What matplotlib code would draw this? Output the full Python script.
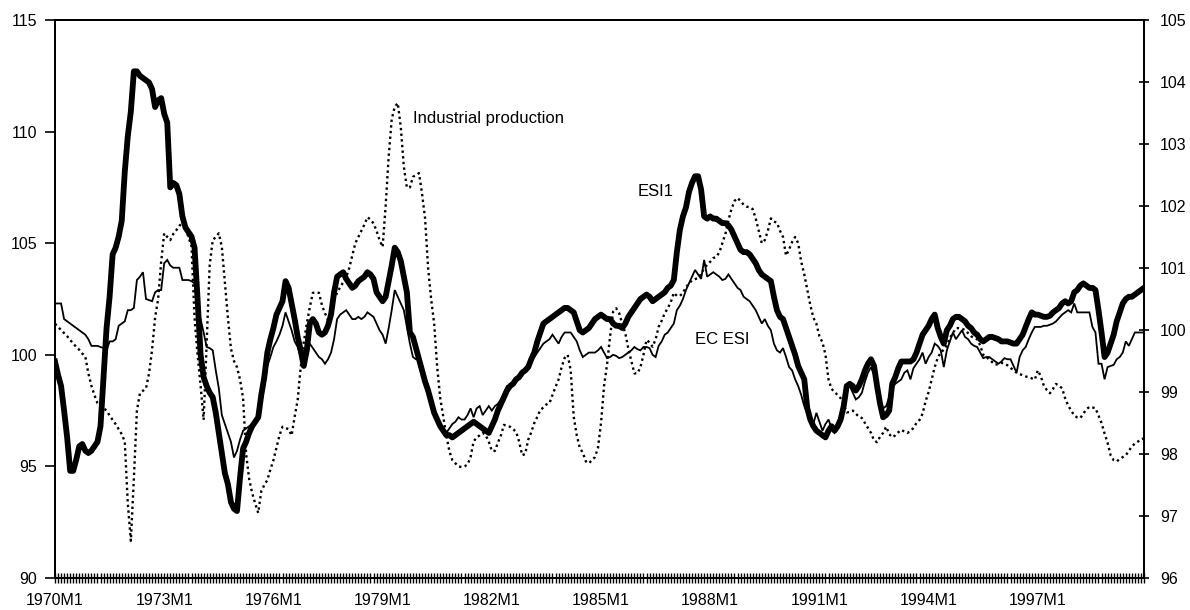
import matplotlib
matplotlib.use("Agg")
import matplotlib.pyplot as plt
import numpy as np

plt.rcParams['font.family'] = ['Liberation Sans', 'DejaVu Sans']

# Monthly observations, 1970M1 .. 1999M12 (one row per year)
esi1 = [
    99.7, 99.1, 98.6, 97.5, 96.3, 94.8, 94.8, 95.3, 95.9, 96.0, 95.7, 95.6,
    95.7, 95.9, 96.1, 96.8, 99.0, 101.2, 102.6, 104.5, 104.8, 105.3, 106.0, 108.2,
    109.8, 110.9, 112.7, 112.7, 112.5, 112.4, 112.3, 112.2, 111.9, 111.1, 111.4, 111.5,
    110.8, 110.4, 107.5, 107.7, 107.6, 107.2, 106.2, 105.7, 105.5, 105.3, 104.8, 102.5,
    100.0, 99.0, 98.6, 98.3, 98.1, 97.4, 96.5, 95.6, 94.7, 94.2, 93.4, 93.1,
    93.0, 94.5, 95.8, 96.1, 96.5, 96.8, 97.0, 97.2, 98.2, 99.0, 100.1, 100.7,
    101.2, 101.8, 102.1, 102.4, 103.3, 103.0, 102.3, 101.6, 100.8, 100.2, 99.5, 100.2,
    101.4, 101.6, 101.4, 101.0, 100.9, 101.0, 101.3, 101.8, 102.8, 103.5, 103.6, 103.7,
    103.4, 103.2, 103.0, 103.1, 103.3, 103.4, 103.5, 103.7, 103.6, 103.4, 102.8, 102.6,
    102.4, 102.6, 103.3, 104.0, 104.8, 104.6, 104.2, 103.5, 102.8, 101.0, 100.8, 100.3,
    99.8, 99.3, 98.8, 98.4, 97.9, 97.4, 97.1, 96.8, 96.6, 96.4, 96.4, 96.3,
    96.4, 96.5, 96.6, 96.7, 96.8, 96.9, 97.0, 96.9, 96.8, 96.7, 96.6, 96.5,
    96.8, 97.1, 97.5, 97.8, 98.1, 98.4, 98.6, 98.7, 98.9, 99.0, 99.2, 99.3,
    99.45, 99.8, 100.1, 100.6, 101.0, 101.4, 101.5, 101.6, 101.7, 101.8, 101.9, 102.0,
    102.1, 102.1, 102.0, 101.9, 101.5, 101.1, 101.0, 101.1, 101.2, 101.4, 101.6, 101.7,
    101.8, 101.7, 101.6, 101.6, 101.4, 101.3, 101.3, 101.2, 101.4, 101.7, 101.9, 102.1,
    102.3, 102.5, 102.6, 102.7, 102.6, 102.4, 102.5, 102.6, 102.7, 102.8, 103.0, 103.1,
    103.35, 104.6, 105.6, 106.2, 106.6, 107.3, 107.7, 108.0, 108.0, 107.4, 106.2, 106.1,
    106.2, 106.1, 106.1, 106.0, 105.9, 105.9, 105.8, 105.6, 105.3, 105.0, 104.7, 104.6,
    104.6, 104.5, 104.3, 104.1, 103.8, 103.6, 103.5, 103.4, 103.3, 102.6, 102.0, 101.7,
    101.6, 101.2, 100.8, 100.4, 100.0, 99.5, 99.2, 98.9, 97.6, 97.1, 96.8, 96.6,
    96.5, 96.4, 96.3, 96.6, 96.8, 96.6, 96.8, 97.1, 97.7, 98.6, 98.7, 98.6,
    98.4, 98.6, 98.9, 99.3, 99.6, 99.8, 99.5, 98.6, 97.8, 97.2, 97.3, 97.5,
    98.7, 99.0, 99.4, 99.7, 99.7, 99.7, 99.7, 99.8, 100.1, 100.5, 100.9, 101.1,
    101.3, 101.6, 101.8, 101.2, 100.8, 100.5, 101.1, 101.3, 101.6, 101.7, 101.7, 101.6,
    101.5, 101.3, 101.2, 101.0, 100.9, 100.7, 100.6, 100.7, 100.8, 100.8, 100.75, 100.7,
    100.6, 100.6, 100.6, 100.55, 100.5, 100.5, 100.7, 100.9, 101.25, 101.6, 101.9, 101.8,
    101.8, 101.75, 101.7, 101.7, 101.75, 101.9, 102.0, 102.1, 102.3, 102.4, 102.3, 102.4,
    102.8, 102.9, 103.1, 103.2, 103.1, 103.0, 103.0, 102.9, 102.0, 101.0, 99.9, 100.1,
    100.5, 100.9, 101.5, 101.9, 102.3, 102.5, 102.6, 102.6, 102.7, 102.8, 102.9, 103.0,
]

ec_esi = [
    102.3, 102.3, 102.3, 101.6, 101.5, 101.4, 101.3, 101.2, 101.1, 101.0, 100.9, 100.7,
    100.4, 100.4, 100.4, 100.35, 100.3, 100.2, 100.6, 100.6, 100.7, 101.3, 101.4, 101.5,
    102.0, 102.0, 102.1, 103.35, 103.5, 103.7, 102.5, 102.45, 102.4, 102.8, 102.9, 102.9,
    104.1, 104.25, 104.0, 103.9, 103.9, 103.9, 103.35, 103.35, 103.35, 103.3, 103.2, 102.0,
    101.6, 101.0, 100.35, 100.3, 100.2, 99.3, 98.5, 97.3, 96.9, 96.5, 96.1, 95.4,
    95.7, 96.2, 96.6, 96.7, 96.8, 96.9, 97.0, 97.1, 97.8, 98.6, 99.5, 99.9,
    100.35, 100.6, 100.9, 101.3, 101.9, 101.5, 101.1, 100.6, 100.35, 99.9, 99.45, 99.9,
    100.5, 100.3, 100.1, 99.9, 99.8, 99.6, 99.8, 100.1, 100.7, 101.6, 101.8, 101.9,
    102.0, 101.8, 101.6, 101.6, 101.7, 101.6, 101.7, 101.9, 101.8, 101.7, 101.4, 101.1,
    100.9, 100.5, 101.2, 102.0, 102.9, 102.6, 102.3, 102.0, 101.25, 100.5, 99.9, 99.8,
    99.8, 99.3, 99.0, 98.6, 98.0, 97.4, 97.2, 96.9, 96.7, 96.5, 96.7, 96.9,
    97.0, 97.2, 97.1, 97.1, 97.3, 97.6, 97.2, 97.6, 97.7, 97.3, 97.5, 97.7,
    97.5, 97.7, 97.8, 98.0, 98.3, 98.6, 98.6, 98.7, 98.9, 99.0, 99.2, 99.4,
    99.6, 99.8, 99.9, 100.1, 100.3, 100.5, 100.6, 100.7, 100.9, 100.7, 100.5, 100.8,
    101.0, 101.0, 101.0, 100.8, 100.6, 100.2, 99.9, 100.0, 100.1, 100.1, 100.1, 100.2,
    100.35, 100.1, 99.85, 99.9, 100.0, 99.95, 99.85, 99.9, 100.0, 100.1, 100.2, 100.35,
    100.25, 100.2, 100.35, 100.35, 100.3, 100.0, 99.9, 100.4, 100.6, 100.9, 101.0, 101.2,
    101.4, 102.0, 102.2, 102.5, 102.9, 103.2, 103.5, 103.8, 103.6, 103.4, 104.25, 103.5,
    103.6, 103.7, 103.6, 103.5, 103.35, 103.4, 103.6, 103.4, 103.2, 103.0, 102.9, 102.6,
    102.5, 102.4, 102.2, 102.0, 101.7, 101.4, 101.6, 101.3, 101.1, 100.5, 100.2, 100.1,
    100.3, 99.9, 99.45, 99.3, 98.9, 98.6, 98.2, 97.7, 97.4, 97.0, 96.9, 97.4,
    97.0, 96.6, 96.9, 97.1, 96.7, 96.5, 96.7, 97.1, 97.6, 98.5, 98.6, 98.3,
    98.0, 98.1, 98.3, 98.8, 99.2, 99.45, 99.1, 98.7, 98.0, 97.6, 97.7, 98.1,
    98.5, 98.7, 98.8, 98.9, 99.2, 99.3, 98.9, 99.4, 99.6, 99.8, 100.1, 99.6,
    99.9, 100.1, 100.5, 100.4, 100.2, 99.45, 100.2, 100.6, 101.0, 100.7, 100.9, 101.1,
    100.8, 100.7, 100.5, 100.4, 100.35, 100.1, 99.85, 99.9, 99.9, 99.8, 99.7, 99.6,
    99.7, 99.85, 99.8, 99.8, 99.5, 99.2, 99.9, 100.2, 100.35, 100.7, 101.0, 101.25,
    101.25, 101.25, 101.3, 101.3, 101.35, 101.4, 101.5, 101.65, 101.8, 101.9, 102.0, 101.9,
    102.3, 101.9, 101.9, 101.9, 101.9, 101.9, 101.25, 101.0, 99.6, 99.6, 98.9, 99.45,
    99.5, 99.55, 99.8, 99.9, 100.1, 100.6, 100.4, 100.7, 101.0, 101.0, 101.0, 101.0,
]

industrial_production = [
    100.1, 100.05, 100.0, 99.95, 99.9, 99.84, 99.78, 99.73, 99.68, 99.62, 99.57, 99.3,
    99.1, 98.95, 98.82, 98.78, 98.74, 98.7, 98.62, 98.55, 98.48, 98.4, 98.32, 98.2,
    97.2, 96.6, 97.6, 98.7, 98.98, 99.02, 99.06, 99.3, 99.68, 100.2, 100.5, 101.1,
    101.56, 101.5, 101.45, 101.55, 101.61, 101.68, 101.73, 101.62, 101.5, 101.35, 100.2, 99.6,
    99.1, 98.55, 99.8, 101.05, 101.45, 101.5, 101.56, 101.34, 100.76, 100.2, 99.7, 99.5,
    99.4, 99.2, 98.9, 98.0, 97.6, 97.37, 97.2, 97.05, 97.4, 97.5, 97.58, 97.75,
    97.9, 98.1, 98.3, 98.44, 98.42, 98.4, 98.3, 98.6, 98.87, 99.4, 99.8, 100.1,
    100.37, 100.6, 100.6, 100.6, 100.4, 100.27, 100.16, 100.3, 100.5, 100.6, 100.69, 100.77,
    100.85, 101.0, 101.2, 101.4, 101.5, 101.6, 101.7, 101.82, 101.78, 101.72, 101.6, 101.45,
    101.34, 102.0, 102.8, 103.4, 103.6, 103.66, 103.27, 102.63, 102.3, 102.3, 102.47, 102.5,
    102.53, 102.2, 101.8, 101.0, 100.5, 100.1, 99.4, 98.9, 98.6, 98.3, 98.05, 97.9,
    97.85, 97.8, 97.79, 97.8, 97.83, 97.95, 98.2, 98.27, 98.3, 98.34, 98.3, 98.2,
    98.05, 98.05, 98.18, 98.3, 98.47, 98.45, 98.44, 98.4, 98.36, 98.2, 97.98, 98.0,
    98.23, 98.35, 98.5, 98.6, 98.71, 98.75, 98.8, 98.82, 98.95, 99.08, 99.2, 99.4,
    99.55, 99.6, 99.35, 98.6, 98.3, 98.1, 98.02, 97.88, 97.85, 97.9, 97.95, 98.1,
    98.5, 99.1, 99.45, 99.9, 100.3, 100.35, 100.27, 100.1, 99.95, 99.7, 99.5, 99.3,
    99.3, 99.4, 99.6, 99.84, 99.8, 99.73, 99.85, 100.05, 100.15, 100.27, 100.35, 100.45,
    100.6, 100.55, 100.55, 100.6, 100.69, 100.75, 100.8, 100.82, 100.84, 100.9, 101.0, 101.05,
    101.1, 101.16, 101.18, 101.25, 101.4, 101.55, 101.77, 101.95, 102.08, 102.13, 102.08, 102.02,
    101.99, 101.98, 101.95, 101.8, 101.6, 101.4, 101.45, 101.6, 101.8, 101.75, 101.73, 101.6,
    101.5, 101.2, 101.3, 101.42, 101.5, 101.4, 101.1, 100.9, 100.65, 100.4, 100.2, 100.1,
    99.9, 99.8, 99.6, 99.2, 99.05, 99.0, 98.95, 98.9, 98.8, 98.67, 98.68, 98.7,
    98.65, 98.6, 98.58, 98.5, 98.42, 98.34, 98.22, 98.19, 98.28, 98.34, 98.44, 98.32,
    98.27, 98.3, 98.35, 98.39, 98.36, 98.34, 98.37, 98.42, 98.5, 98.55, 98.65, 98.85,
    99.0, 99.2, 99.4, 99.55, 99.64, 99.68, 99.75, 99.87, 99.95, 100.03, 100.03, 100.02,
    100.0, 99.95, 99.9, 99.87, 99.85, 99.75, 99.6, 99.57, 99.52, 99.48, 99.44, 99.45,
    99.47, 99.46, 99.43, 99.39, 99.35, 99.31, 99.29, 99.27, 99.25, 99.24, 99.22, 99.2,
    99.35, 99.25, 99.1, 99.03, 98.98, 99.05, 99.13, 99.1, 99.06, 98.9, 98.78, 98.7,
    98.62, 98.59, 98.58, 98.65, 98.72, 98.76, 98.75, 98.74, 98.62, 98.5, 98.33, 98.18,
    97.98, 97.9, 97.88, 97.92, 97.95, 97.98, 98.05, 98.12, 98.17, 98.2, 98.24, 98.25,
]

first_year, last_year = 1970, 1999
months = [f"{y}M{m}" for y in range(first_year, last_year + 1) for m in range(1, 13)]
label_years = list(range(1970, 1998, 3))
left_ticks = [90, 95, 100, 105, 110, 115]
right_ticks = [96, 97, 98, 99, 100, 101, 102, 103, 104, 105]

x = np.arange(len(months))

fig = plt.figure(figsize=(11.9, 6.1), dpi=100)
ax = fig.add_axes([55 / 1190, 1 - 578 / 610, (1144 - 55) / 1190, (578 - 20) / 610])
ax2 = ax.twinx()
ax.set_zorder(ax2.get_zorder() + 1)
ax.patch.set_visible(False)

# Industrial production on the right-hand scale
ax2.plot(x, industrial_production, color='black', lw=1.7,
         linestyle=(0, (1.0, 1.4)), dash_capstyle='butt')

# Sentiment indicators on the left-hand scale
ax.plot(x, ec_esi, color='black', lw=1.3, solid_joinstyle='miter')
ax.plot(x, esi1, color='black', lw=4.2, solid_joinstyle='round')

ax.set_xlim(0, len(months) - 1)
ax.set_ylim(90, 115)
ax2.set_ylim(96, 105)

label_pos = [months.index(f"{y}M1") for y in label_years]
ax.set_xticks(label_pos)
ax.set_xticklabels([months[i] for i in label_pos])
ax.set_xticks(x, minor=True)
ax.tick_params(axis='x', which='both', direction='inout', length=6.5, width=1.0,
               pad=7.5, labelsize=11.5)
ax.set_yticks(left_ticks)
ax.tick_params(axis='y', direction='out', length=7, width=1.2, pad=6, labelsize=11.5)
ax2.set_yticks(right_ticks)
ax2.tick_params(axis='y', direction='inout', length=7, width=1.2, pad=8, labelsize=11.5)
ax2.tick_params(axis='x', which='both', bottom=False, top=False)

for a in (ax, ax2):
    for s in a.spines.values():
        s.set_linewidth(1.4)

ax.text(months.index("1979M11"), 110.6, "Industrial production", fontsize=12,
        ha='left', va='center')
ax.text(months.index("1986M1"), 107.3, "ESI1", fontsize=12, ha='left', va='center')
ax.text(months.index("1987M8"), 100.7, "EC ESI", fontsize=12, ha='left', va='center')

fig.savefig("out.png", dpi=100)
